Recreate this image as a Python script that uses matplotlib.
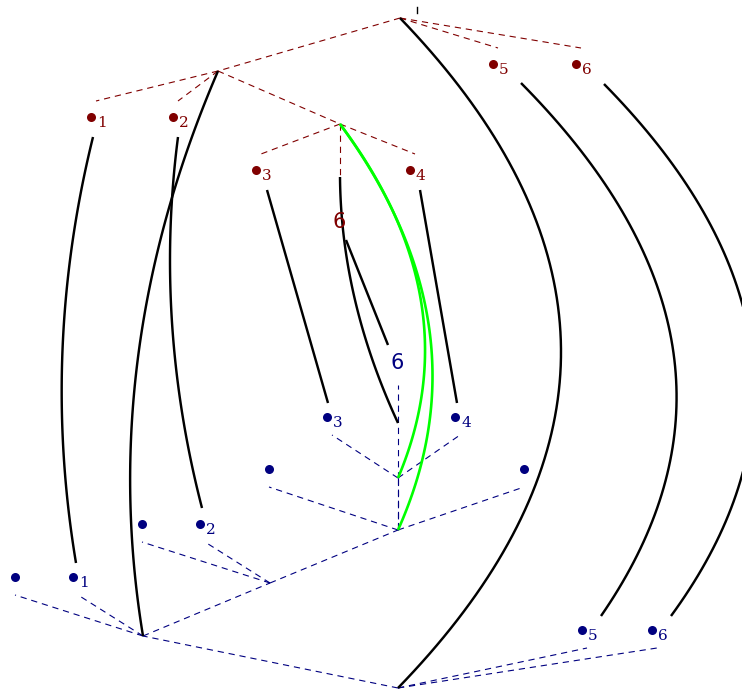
"""Two trees (red on top, blue below) joined by curved links."""
import numpy as np
import matplotlib
matplotlib.use("Agg")
import matplotlib.pyplot as plt

plt.rcParams["lines.scale_dashes"] = False

RED = "#800000"
BLUE = "#000080"

# ---- red tree (top): internal nodes and leaves, pixel coords ----
red_inner = {"R0": (400, 18), "R1": (218, 71), "R2": (340, 124)}
red_leaf_names = ["1", "2", "3", "4", "5", "6"]
red_leaf_x = [91, 173, 256, 410, 493, 576]
red_leaf_y = [117, 117, 170, 170, 64, 64]
red_leaf_parent = ["R1", "R1", "R2", "R2", "R0", "R0"]
red_inner_edges = [("R0", "R1"), ("R1", "R2")]
red_stub = (5, -16)
red_vline = ("R2", 175)   # dashed vertical below R2

# ---- blue tree (bottom) ----
blue_inner = {"B0": (398, 688), "B1": (143, 636), "B2": (270, 583),
              "B3": (398, 530), "B4": (398, 478)}
blue_leaf_names = ["", "1", "", "2", "", "", "3", "4", "5", "6"]
blue_leaf_x = [15, 73, 142, 200, 269, 524, 327, 455, 582, 652]
blue_leaf_y = [577, 577, 524, 524, 469, 469, 417, 417, 630, 630]
blue_leaf_parent = ["B1", "B1", "B2", "B2", "B3", "B3", "B4", "B4", "B0", "B0"]
blue_inner_edges = [("B0", "B1"), ("B1", "B2"), ("B2", "B3"), ("B3", "B4")]
blue_stub = (5, 18)
blue_vline = ("B4", 385)  # dashed vertical above B4

# ---- links: start, end, sideways bulge at mid ----
black_links = [
    ((93, 137), (76, 563), -22),
    ((178, 137), (202, 508), -18),
    ((218, 71), (143, 636), -42),
    ((267, 190), (328, 403), 0),
    ((420, 190), (457, 403), 0),
    ((340, 177), (398, 423), -14),
    ((346, 240), (388, 345), 0),
    ((400, 18), (398, 688), 162),
    ((521, 83), (601, 616), 112),
    ((604, 84), (671, 616), 114),
]
green_links = [
    ((340, 124), (398, 478), 52),
    ((340, 124), (398, 530), 60),
]
red_six = (339, 222)
blue_six = (397, 363)


def bez(p0, p1, bulge, n=80):
    p0 = np.array(p0, float); p1 = np.array(p1, float)
    mid = (p0 + p1) / 2
    c = 2 * (mid + np.array([bulge, 0.0])) - mid
    t = np.linspace(0, 1, n)[:, None]
    return (1 - t) ** 2 * p0 + 2 * t * (1 - t) * c + t ** 2 * p1


fig = plt.figure(figsize=(7.42, 6.91), dpi=100)
ax = fig.add_axes([0, 0, 1, 1])
ax.set_xlim(0, 742); ax.set_ylim(691, 0)
ax.axis("off")

dash = dict(lw=0.8, linestyle=(0, (4.5, 3.5)))


def draw_tree(inner, names, lx, ly, parents, edges, stub, vline, col, label_dy):
    for a, b in edges:
        (x0, y0), (x1, y1) = inner[a], inner[b]
        ax.plot([x0, x1], [y0, y1], color=col, **dash)
    for nm, x, y, p in zip(names, lx, ly, parents):
        px, py = inner[p]
        sx = stub[0] if nm else 0
        ax.plot([px, x + sx], [py, y + stub[1]], color=col, **dash)
        ax.plot(x, y, "o", color=col, ms=6.5, mec="none")
        if nm:
            ax.text(x + 6, y + label_dy, nm, color=col, fontsize=11,
                    family="DejaVu Serif", va="center", ha="left")
    vx, vy = inner[vline[0]]
    ax.plot([vx, vx], [vy, vline[1]], color=col, **dash)


draw_tree(red_inner, red_leaf_names, red_leaf_x, red_leaf_y, red_leaf_parent,
          red_inner_edges, red_stub, red_vline, RED, 6)
draw_tree(blue_inner, blue_leaf_names, blue_leaf_x, blue_leaf_y, blue_leaf_parent,
          blue_inner_edges, blue_stub, blue_vline, BLUE, 6)
# blue vertical between B4 and B3
ax.plot([398, 398], [blue_inner["B4"][1], blue_inner["B3"][1]], color=BLUE, **dash)

for p0, p1, b in black_links:
    pts = bez(p0, p1, b)
    ax.plot(pts[:, 0], pts[:, 1], color="black", lw=1.75, solid_capstyle="butt")
for p0, p1, b in green_links:
    pts = bez(p0, p1, b)
    ax.plot(pts[:, 0], pts[:, 1], color="#00ff00", lw=1.9, solid_capstyle="butt")

ax.plot([417, 417], [7, 13], color="black", lw=1)

ax.text(*red_six, "6", color=RED, fontsize=15, ha="center", va="center")
ax.text(*blue_six, "6", color=BLUE, fontsize=15, ha="center", va="center")

plt.savefig("out.png", dpi=100)
